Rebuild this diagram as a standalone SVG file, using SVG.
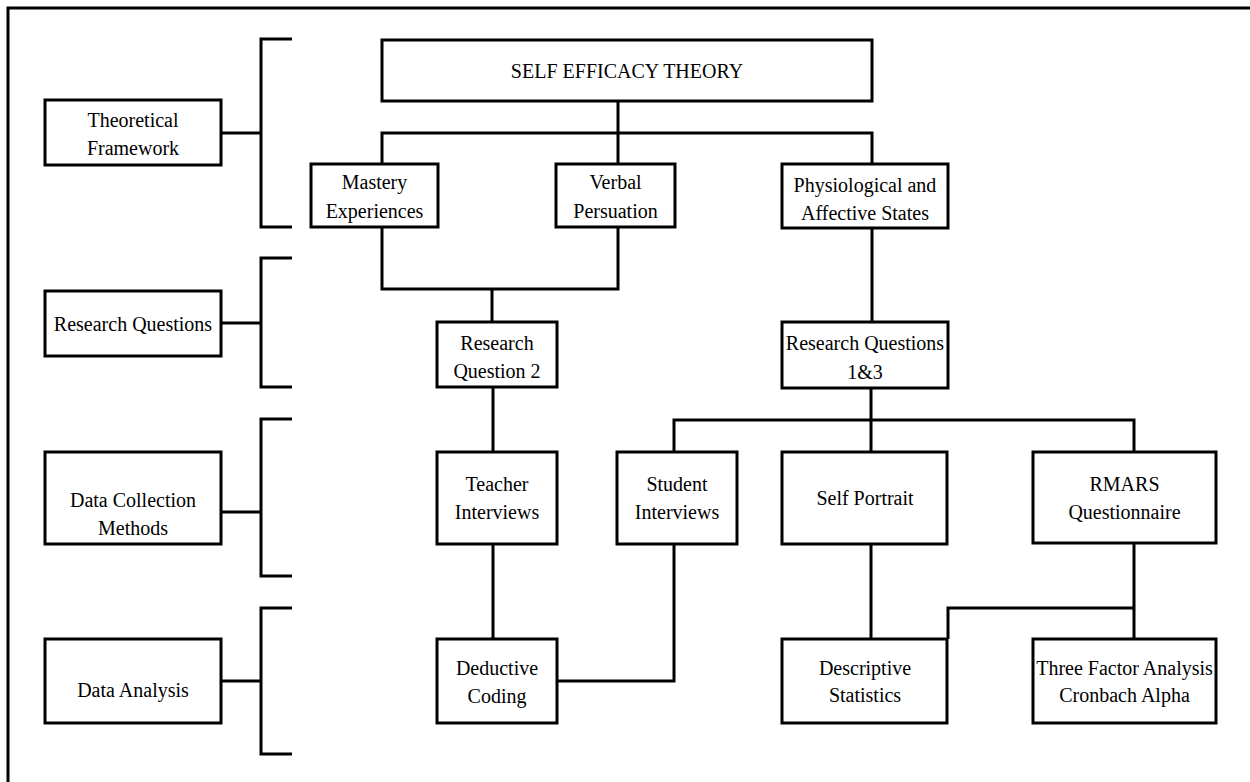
<svg xmlns="http://www.w3.org/2000/svg" width="1250" height="782" viewBox="0 0 1250 782">
<style>
.box{fill:#fff;stroke:#000;stroke-width:3}
.ln{fill:none;stroke:#000;stroke-width:3}
text{font-family:"Liberation Serif","Times New Roman",serif;font-size:20px;fill:#000;text-anchor:middle}
</style>
<rect width="1250" height="782" fill="#fff"/>
<path class="ln" d="M8,782 V8 H1250" stroke-width="2.5"/>
<g id="connectors">
<path class="ln" d="M292,39 H261 V227 H292 M221,133 H261"/>
<path class="ln" d="M292,258 H261 V387 H292 M221,323 H261"/>
<path class="ln" d="M292,419 H261 V576 H292 M221,512 H261"/>
<path class="ln" d="M292,608 H261 V754 H292 M221,681 H261"/>
<path class="ln" d="M618,101 V164 M382,164 V133 H872 V164"/>
<path class="ln" d="M382,227 V289 H618 V227 M492,289 V322"/>
<path class="ln" d="M872,228 V322"/>
<path class="ln" d="M493,387 V452 M493,544 V639"/>
<path class="ln" d="M871,388 V452 M674,452 V420 H1134 V452"/>
<path class="ln" d="M871,544 V639 M1134,543 V639 M1134,608 H948 V639"/>
<path class="ln" d="M557,681 H674 V544"/>
</g>
<g id="theoretical-framework"><rect class="box" x="45" y="100" width="176" height="65"/><text x="133" y="127">Theoretical</text><text x="133" y="155">Framework</text></g>
<g id="research-questions"><rect class="box" x="45" y="291" width="176" height="65"/><text x="133" y="331">Research Questions</text></g>
<g id="data-collection-methods"><rect class="box" x="45" y="452" width="176" height="92"/><text x="133" y="507">Data Collection</text><text x="133" y="535">Methods</text></g>
<g id="data-analysis"><rect class="box" x="45" y="639" width="176" height="84"/><text x="133" y="697">Data Analysis</text></g>
<g id="self-efficacy-theory"><rect class="box" x="382" y="40" width="490" height="61"/><text x="627" y="78">SELF EFFICACY THEORY</text></g>
<g id="mastery-experiences"><rect class="box" x="311" y="164" width="127" height="63"/><text x="374.5" y="189">Mastery</text><text x="374.5" y="218">Experiences</text></g>
<g id="verbal-persuation"><rect class="box" x="556" y="164" width="119" height="63"/><text x="615.5" y="189">Verbal</text><text x="615.5" y="218">Persuation</text></g>
<g id="physiological-affective"><rect class="box" x="782" y="164" width="166" height="64"/><text x="865" y="192">Physiological and</text><text x="865" y="220">Affective States</text></g>
<g id="research-question-2"><rect class="box" x="437" y="322" width="120" height="65"/><text x="497" y="350">Research</text><text x="497" y="378">Question 2</text></g>
<g id="research-questions-1-3"><rect class="box" x="782" y="322" width="166" height="66"/><text x="865" y="350">Research Questions</text><text x="865" y="379">1&amp;3</text></g>
<g id="teacher-interviews"><rect class="box" x="437" y="452" width="120" height="92"/><text x="497" y="491">Teacher</text><text x="497" y="519">Interviews</text></g>
<g id="student-interviews"><rect class="box" x="617" y="452" width="120" height="92"/><text x="677" y="491">Student</text><text x="677" y="519">Interviews</text></g>
<g id="self-portrait"><rect class="box" x="782" y="452" width="165" height="92"/><text x="865" y="505">Self Portrait</text></g>
<g id="rmars-questionnaire"><rect class="box" x="1033" y="452" width="183" height="91"/><text x="1124.5" y="491">RMARS</text><text x="1124.5" y="519">Questionnaire</text></g>
<g id="deductive-coding"><rect class="box" x="437" y="639" width="120" height="84"/><text x="497" y="675">Deductive</text><text x="497" y="703">Coding</text></g>
<g id="descriptive-statistics"><rect class="box" x="782" y="639" width="165" height="84"/><text x="865" y="675">Descriptive</text><text x="865" y="702">Statistics</text></g>
<g id="three-factor-analysis"><rect class="box" x="1033" y="639" width="183" height="84"/><text x="1124.5" y="675">Three Factor Analysis</text><text x="1124.5" y="702">Cronbach Alpha</text></g>
</svg>
